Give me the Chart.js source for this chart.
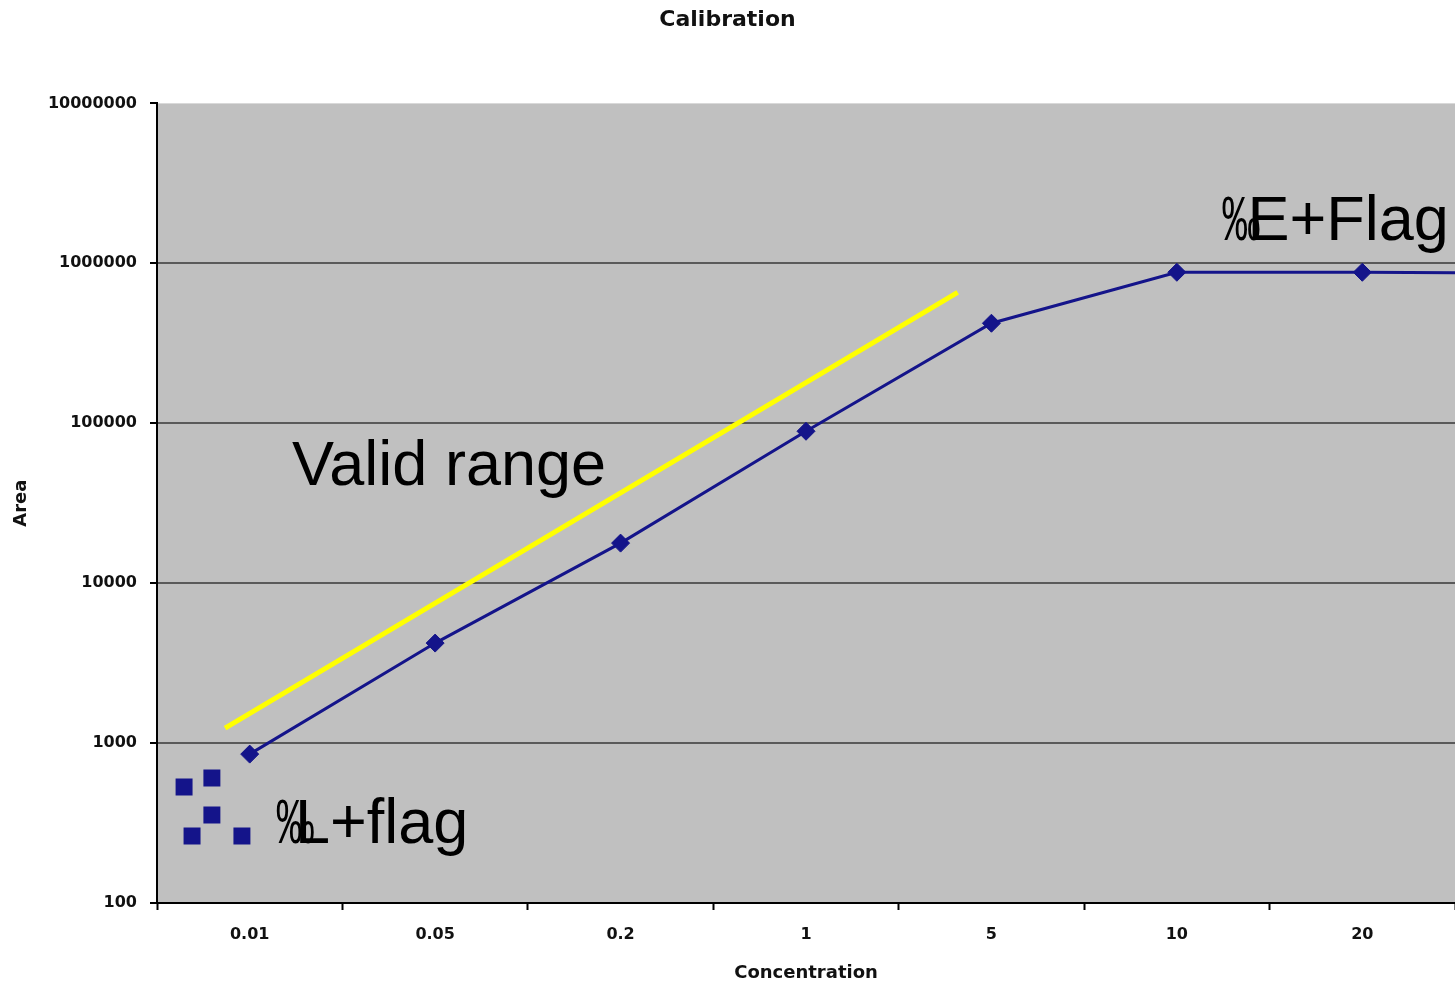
<!DOCTYPE html>
<html>
<head>
<meta charset="utf-8">
<title>Calibration</title>
<script src="https://cdn.jsdelivr.net/npm/chart.js@4.4.1/dist/chart.umd.min.js"></script>
<style>
  html, body { margin: 0; padding: 0; background: #ffffff; overflow: hidden; }
</style>
</head>
<body>
<canvas id="myChart" width="1455" height="987"></canvas>
<script>
// categorias del eje X (cada una ocupa el mismo ancho)
var xLabels = ['0.01', '0.05', '0.2', '1', '5', '10', '20'];

// area medida por concentracion; el ultimo valor queda fuera del borde derecho
var areaValues = [853, 4220, 17800, 89100, 422000, 879000, 879000, 870000];

// puntos sueltos bajo el limite inferior (posicion x en unidades de categoria)
var lowFlagX = [-0.354, -0.204, -0.204, -0.311, -0.042];
var lowFlagY = [531, 604, 355, 262, 262];

// linea amarilla del rango valido
var validLineX = [-0.133, 3.818];
var validLineY = [1241, 659000];

// marcas del eje Y
var yTicks = [100, 1000, 10000, 100000, 1000000, 10000000];

// textos grandes sobre el grafico
var noteTexts = ['Valid range', 'L+flag', 'E+Flag'];
var noteX = [0.228, 0.244, 5.381];
var noteY = [40970, 237, 1393000];
var noteMark = [null, 0.141, 5.241];   // donde empieza el simbolo ‰ que se superpone

var areaPoints = areaValues.map(function (v, i) { return { x: i, y: v }; });
var lowPoints = lowFlagX.map(function (x, i) { return { x: x, y: lowFlagY[i] }; });
var validPoints = validLineX.map(function (x, i) { return { x: x, y: validLineY[i] }; });

var navy = '#14148a';
var textFont = '63px "Liberation Sans", Arial, sans-serif';

// fondo gris del area de trazado
var plotBackground = {
    id: 'plotBackground',
    beforeDraw: function (chart) {
        var ctx = chart.ctx;
        var a = chart.chartArea;
        ctx.save();
        ctx.fillStyle = '#ffffff';
        ctx.fillRect(0, 0, chart.width, chart.height);
        ctx.fillStyle = '#c0c0c0';
        ctx.fillRect(a.left, a.top, a.right - a.left, a.bottom - a.top);
        ctx.restore();
    }
};

// textos anotados en coordenadas de datos
var noteLabels = {
    id: 'noteLabels',
    afterDatasetsDraw: function (chart) {
        var ctx = chart.ctx;
        var xs = chart.scales.x;
        var ys = chart.scales.y;
        ctx.save();
        ctx.fillStyle = '#000000';
        ctx.font = textFont;
        ctx.textBaseline = 'alphabetic';
        ctx.textAlign = 'left';
        for (var i = 0; i < noteTexts.length; i++) {
            var py = ys.getPixelForValue(noteY[i]);
            ctx.fillText(noteTexts[i], xs.getPixelForValue(noteX[i]), py);
            if (noteMark[i] !== null) {
                var mx = xs.getPixelForValue(noteMark[i]);
                ctx.save();
                ctx.translate(mx, py);
                ctx.scale(0.62, 1);
                ctx.fillText('\u2030', 0, 0);
                ctx.restore();
            }
        }
        ctx.restore();
    }
};

var ctx = document.getElementById('myChart').getContext('2d');

var myChart = new Chart(ctx, {
    type: 'line',
    data: {
        datasets: [
            {
                label: 'Area',
                data: areaPoints,
                borderColor: navy,
                backgroundColor: navy,
                borderWidth: 3,
                pointStyle: 'rectRot',
                pointRadius: 9,
                pointBorderWidth: 1,
                tension: 0
            },
            {
                label: 'Below range',
                data: lowPoints,
                showLine: false,
                borderColor: navy,
                backgroundColor: navy,
                pointStyle: 'rect',
                pointRadius: 12,
                pointBorderWidth: 0
            },
            {
                label: 'Valid range',
                data: validPoints,
                borderColor: '#ffff00',
                borderWidth: 5,
                pointRadius: 0,
                tension: 0
            }
        ]
    },
    options: {
        responsive: false,
        animation: false,
        layout: { padding: 0, autoPadding: false },
        plugins: {
            legend: { display: false },
            tooltip: { enabled: false },
            title: {
                display: true,
                text: 'Calibration',
                color: '#111111',
                font: { family: '"DejaVu Sans", Verdana, sans-serif', size: 22, weight: 'bold' },
                padding: { top: 7, bottom: 70 }
            }
        },
        scales: {
            x: {
                type: 'linear',
                min: -0.5,
                max: 6.5,
                bounds: 'data',
                afterBuildTicks: function (scale) {
                    scale.ticks = xLabels.map(function (l, i) { return { value: i }; });
                },
                afterFit: function (scale) {
                    scale.height = 84;
                },
                ticks: {
                    autoSkip: false,
                    maxRotation: 0,
                    padding: 15,
                    color: '#111111',
                    font: { family: '"DejaVu Sans", Verdana, sans-serif', size: 16, weight: 'bold' },
                    callback: function (value) { return xLabels[value]; }
                },
                grid: {
                    offset: true,
                    drawOnChartArea: false,
                    tickLength: 7,
                    tickColor: '#000000',
                    tickWidth: 2
                },
                border: { color: '#000000', width: 2 },
                title: {
                    display: true,
                    text: 'Concentration',
                    color: '#111111',
                    font: { family: '"DejaVu Sans", Verdana, sans-serif', size: 18, weight: 'bold' },
                    padding: { top: 0, bottom: 3 }
                }
            },
            y: {
                type: 'logarithmic',
                min: 100,
                max: 10000000,
                afterBuildTicks: function (scale) {
                    scale.ticks = yTicks.map(function (v) { return { value: v }; });
                },
                afterFit: function (scale) {
                    scale.width = 157;
                },
                ticks: {
                    padding: 13,
                    color: '#111111',
                    font: { family: '"DejaVu Sans", Verdana, sans-serif', size: 16, weight: 'bold' },
                    callback: function (value) { return String(value); }
                },
                grid: {
                    color: function (c) {
                        if (!c.tick) return '#5a5a5a';
                        var v = c.tick.value;
                        return (v === 100 || v === 10000000) ? 'rgba(0,0,0,0)' : '#5a5a5a';
                    },
                    lineWidth: 2,
                    tickLength: 7,
                    tickColor: '#000000',
                    tickWidth: 2
                },
                border: { color: '#000000', width: 2 },
                title: {
                    display: true,
                    text: 'Area',
                    color: '#111111',
                    font: { family: '"DejaVu Sans", Verdana, sans-serif', size: 18, weight: 'bold' },
                    padding: { top: 11, bottom: 0 }
                }
            }
        }
    },
    plugins: [plotBackground, noteLabels]
});
</script>
</body>
</html>
